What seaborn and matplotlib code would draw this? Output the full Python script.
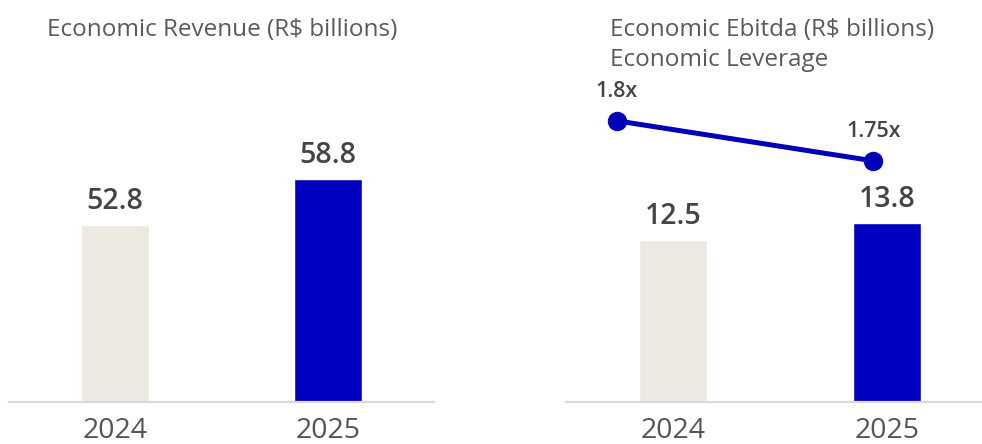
import matplotlib
matplotlib.use("Agg")
import matplotlib.pyplot as plt
import seaborn as sns
import pandas as pd

# Data
years = ["2024", "2025"]
revenue = [52.8, 58.8]
ebitda = [12.5, 13.8]
leverage = [1.8, 1.75]
leverage_labels = ["1.8x", "1.75x"]

bar_colors = ["#ECEAE0", "#0000C0"]
line_color = "#0000B8"
title_color = "#5A5A5A"
value_color = "#444444"
tick_color = "#555555"
base_color = "#DADADA"

sns.set_theme(style="white")
plt.rcParams["font.family"] = ["Open Sans", "DejaVu Sans"]

W, H = 982, 444
fig = plt.figure(figsize=(W / 100, H / 100), dpi=100)


def rect(x0, x1, y_top, y_bottom):
    return [x0 / W, (H - y_bottom) / H, (x1 - x0) / W, (y_bottom - y_top) / H]


def style_bar_axis(ax, ylim, xlim):
    ax.set_ylim(*ylim)
    ax.set_xlim(*xlim)
    for side in ["left", "right", "top"]:
        ax.spines[side].set_visible(False)
    ax.spines["bottom"].set_color(base_color)
    ax.spines["bottom"].set_linewidth(1.6)
    ax.set_yticks([])
    ax.set_xlabel("")
    ax.set_ylabel("")
    ax.tick_params(axis="x", length=0, pad=11, labelsize=20.5, labelcolor=tick_color)
    for lbl in ax.get_xticklabels():
        lbl.set_fontweight("normal")


def label_bars(ax, values):
    for i, v in enumerate(values):
        ax.annotate(f"{v:.1f}", xy=(i, v), xytext=(0, 11.5), textcoords="offset points",
                    ha="center", va="baseline", fontsize=20.5, fontweight="semibold",
                    color=value_color)


# Left panel: revenue
ax1 = fig.add_axes(rect(9, 434, 60, 401.5))
ax1.set_facecolor("none")
df_rev = pd.DataFrame({"year": years, "value": revenue})
sns.barplot(data=df_rev, x="year", y="value", hue="year", palette=bar_colors,
            width=0.32, legend=False, ax=ax1, saturation=1)
style_bar_axis(ax1, (29.78, 74.32), (-0.5, 1.5))
label_bars(ax1, revenue)
fig.text(47 / W, 1 - 30 / H, "Economic Revenue (R$ billions)", ha="left", va="center",
         fontsize=17.5, color=title_color)

# Right panel: ebitda
ax2 = fig.add_axes(rect(566, 982, 60, 401.5))
ax2.set_facecolor("none")
df_eb = pd.DataFrame({"year": years, "value": ebitda})
sns.barplot(data=df_eb, x="year", y="value", hue="year", palette=bar_colors,
            width=0.32, legend=False, ax=ax2, saturation=1)
style_bar_axis(ax2, (0, 26.4), (-0.5, 1.444))
label_bars(ax2, ebitda)
fig.text(610 / W, 1 - 30 / H, "Economic Ebitda (R$ billions)", ha="left", va="center",
         fontsize=17.5, color=title_color)
fig.text(610 / W, 1 - 60 / H, "Economic Leverage", ha="left", va="center",
         fontsize=17.5, color=title_color)

# Leverage line overlay
ax3 = fig.add_axes(rect(566, 982, 60, 401.5))
ax3.set_facecolor("none")
df_lev = pd.DataFrame({"pos": [0, 1], "value": leverage})
sns.lineplot(data=df_lev, x="pos", y="value", ax=ax3, color=line_color,
             linewidth=3.6, marker="o", markersize=14, markeredgewidth=0)
ax3.set_xlim(-0.1976, 1.4236)
ax3.set_ylim(1.4496, 1.8759)
ax3.axis("off")
for i, (v, t) in enumerate(zip(leverage, leverage_labels)):
    ax3.annotate(t, xy=(i, v), xytext=(0, 17.3), textcoords="offset points",
                 ha="center", va="baseline", fontsize=15.5, fontweight="semibold",
                 color=value_color)

fig.savefig("out.png", dpi=100)
